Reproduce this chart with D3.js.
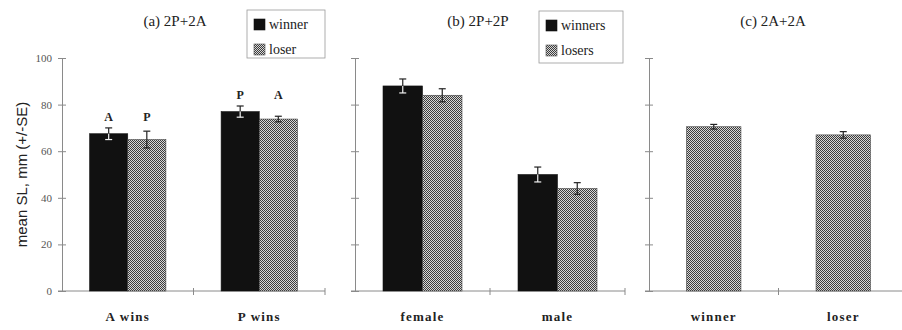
<!DOCTYPE html>
<html>
<head>
<meta charset="utf-8">
<script src="https://cdn.jsdelivr.net/npm/d3@7"></script>
<style>
  body { margin: 0; background: #fff; }
  svg { display: block; }
</style>
</head>
<body>
<script>
// panel (a) 2P+2A
const catsA = ['A wins', 'P wins'];
const winnerA = [67.5, 77];
const winnerSeA = [2.5, 2.4];
const loserA = [65, 73.8];
const loserSeA = [3.6, 1.2];
const marksA = [['A', 'P'], ['P', 'A']];

// panel (b) 2P+2P
const catsB = ['female', 'male'];
const winnerB = [88, 50];
const winnerSeB = [3, 3.2];
const loserB = [84, 44];
const loserSeB = [2.8, 2.5];

// panel (c) 2A+2A
const catsC = ['winner', 'loser'];
const valuesC = [70.5, 67];
const seC = [1, 1.4];

const yTicks = [0, 20, 40, 60, 80, 100];

const width = 902, height = 330;
const axisCol = '#8a8a8a';

const svg = d3.select('body').append('svg')
  .attr('width', width)
  .attr('height', height);

// fine checker used for the loser bars
const defs = svg.append('defs');
const pat = defs.append('pattern')
  .attr('id', 'hatch')
  .attr('patternUnits', 'userSpaceOnUse')
  .attr('width', 2)
  .attr('height', 2);
pat.append('rect').attr('width', 2).attr('height', 2).attr('fill', '#d8d8d8');
pat.append('rect').attr('x', 0).attr('y', 0).attr('width', 1).attr('height', 1).attr('fill', '#3c3c3c');
pat.append('rect').attr('x', 1).attr('y', 1).attr('width', 1).attr('height', 1).attr('fill', '#3c3c3c');

const y = d3.scaleLinear().domain([0, 100]).range([291, 58]);

function drawPanel(opt) {
  const g = svg.append('g');
  const x = d3.scaleBand()
    .domain(opt.cats)
    .range([opt.x0, opt.x1])
    .paddingInner(opt.pad)
    .paddingOuter(opt.pad / 2);
  const xs = d3.scaleBand()
    .domain(d3.range(opt.series.length))
    .range([0, x.bandwidth()]);

  // y axis
  const yAxis = d3.axisLeft(y).tickValues(yTicks).tickSize(0)
    .tickFormat(opt.labels ? d3.format('d') : '');
  const ya = g.append('g')
    .attr('transform', `translate(${opt.x0},0)`)
    .call(yAxis);
  ya.select('.domain').attr('stroke', axisCol);
  ya.selectAll('.tick line').attr('x1', -4).attr('x2', 4).attr('stroke', axisCol);
  ya.selectAll('.tick text')
    .attr('x', -10)
    .attr('font-family', 'Liberation Serif, serif')
    .attr('font-size', 11)
    .attr('fill', '#555');

  // x axis line with category boundary ticks
  g.append('line')
    .attr('x1', opt.x0 - 4).attr('x2', opt.xEnd)
    .attr('y1', y(0)).attr('y2', y(0))
    .attr('stroke', axisCol);
  const bounds = opt.cats.map((c, i) => opt.x0 + x.step() * (i + 1));
  g.selectAll('.bt').data(bounds).join('line')
    .attr('x1', d => d).attr('x2', d => d)
    .attr('y1', y(0) - 3).attr('y2', y(0) + 4)
    .attr('stroke', axisCol);

  // bars
  opt.series.forEach((s, si) => {
    g.selectAll(null).data(s.values).join('rect')
      .attr('x', (d, i) => x(opt.cats[i]) + xs(si))
      .attr('y', d => y(d))
      .attr('width', xs.bandwidth())
      .attr('height', d => y(0) - y(d))
      .attr('fill', s.fill)
      .attr('stroke', s.dark ? '#111' : '#444')
      .attr('stroke-width', 0.6);

    // error bars
    s.values.forEach((v, i) => {
      const cx = x(opt.cats[i]) + xs(si) + xs.bandwidth() / 2;
      const se = s.se[i];
      const hi = g.append('g').attr('stroke', '#222').attr('stroke-width', 1.2);
      hi.append('line').attr('x1', cx).attr('x2', cx).attr('y1', y(v)).attr('y2', y(v + se));
      hi.append('line').attr('x1', cx - 3.5).attr('x2', cx + 3.5).attr('y1', y(v + se)).attr('y2', y(v + se));
      const lo = g.append('g').attr('stroke', s.dark ? '#f2f2f2' : '#222').attr('stroke-width', 1.2);
      lo.append('line').attr('x1', cx).attr('x2', cx).attr('y1', y(v)).attr('y2', y(v - se));
      lo.append('line').attr('x1', cx - 3.5).attr('x2', cx + 3.5).attr('y1', y(v - se)).attr('y2', y(v - se));
    });
  });

  // category labels
  g.selectAll('.cl').data(opt.cats).join('text')
    .attr('x', d => x(d) + x.bandwidth() / 2)
    .attr('y', 321)
    .attr('text-anchor', 'middle')
    .attr('font-family', 'Liberation Serif, serif')
    .attr('font-weight', 'bold')
    .attr('font-size', 13)
    .attr('letter-spacing', 1.2)
    .attr('fill', '#222')
    .text(d => d);

  // title
  g.append('text')
    .attr('x', opt.titleX)
    .attr('y', 26)
    .attr('text-anchor', 'middle')
    .attr('font-family', 'Liberation Serif, serif')
    .attr('font-size', 15)
    .attr('fill', '#222')
    .text(opt.title);

  return { g, x, xs };
}

function legend(x0, y0, w, h, names) {
  const lg = svg.append('g').attr('transform', `translate(${x0},${y0})`);
  lg.append('rect').attr('width', w).attr('height', h)
    .attr('fill', '#fff').attr('stroke', '#999').attr('stroke-width', 0.8);
  const fills = ['#111', 'url(#hatch)'];
  names.forEach((n, i) => {
    const ey = 9 + i * 25;
    lg.append('rect').attr('x', 7).attr('y', ey).attr('width', 11).attr('height', 11)
      .attr('fill', fills[i]).attr('stroke', i ? '#555' : '#111').attr('stroke-width', 0.6);
    lg.append('text').attr('x', 22).attr('y', ey + 10)
      .attr('font-family', 'Liberation Serif, serif')
      .attr('font-size', 14)
      .attr('fill', '#222')
      .text(n);
  });
}

const pa = drawPanel({
  cats: catsA, x0: 62, x1: 325, xEnd: 325, pad: 0.42, labels: true,
  title: '(a) 2P+2A', titleX: 175,
  series: [
    { values: winnerA, se: winnerSeA, fill: '#111', dark: true },
    { values: loserA, se: loserSeA, fill: 'url(#hatch)' }
  ]
});
// letters above panel (a) bars
marksA.forEach((pair, i) => {
  pair.forEach((m, si) => {
    pa.g.append('text')
      .attr('x', pa.x(catsA[i]) + pa.xs(si) + pa.xs.bandwidth() / 2)
      .attr('y', y(Math.max(winnerA[i] + winnerSeA[i], loserA[i] + loserSeA[i])) - 7)
      .attr('text-anchor', 'middle')
      .attr('font-family', 'Liberation Serif, serif')
      .attr('font-weight', 'bold')
      .attr('font-size', 12)
      .attr('fill', '#222')
      .text(m);
  });
});

drawPanel({
  cats: catsB, x0: 355, x1: 625, xEnd: 625, pad: 0.415, labels: false,
  title: '(b) 2P+2P', titleX: 478,
  series: [
    { values: winnerB, se: winnerSeB, fill: '#111', dark: true },
    { values: loserB, se: loserSeB, fill: 'url(#hatch)' }
  ]
});

drawPanel({
  cats: catsC, x0: 649, x1: 908, xEnd: 902, pad: 0.58, labels: false,
  title: '(c) 2A+2A', titleX: 773,
  series: [
    { values: valuesC, se: seC, fill: 'url(#hatch)' }
  ]
});

legend(247, 10, 78, 48, ['winner', 'loser']);
legend(539, 11, 84, 52, ['winners', 'losers']);

// y axis title
svg.append('text')
  .attr('transform', `translate(27,${y(50)}) rotate(-90)`)
  .attr('text-anchor', 'middle')
  .attr('font-family', 'Liberation Sans, Arial, sans-serif')
  .attr('font-size', 15)
  .attr('fill', '#222')
  .text('mean SL, mm (+/-SE)');
</script>
</body>
</html>
